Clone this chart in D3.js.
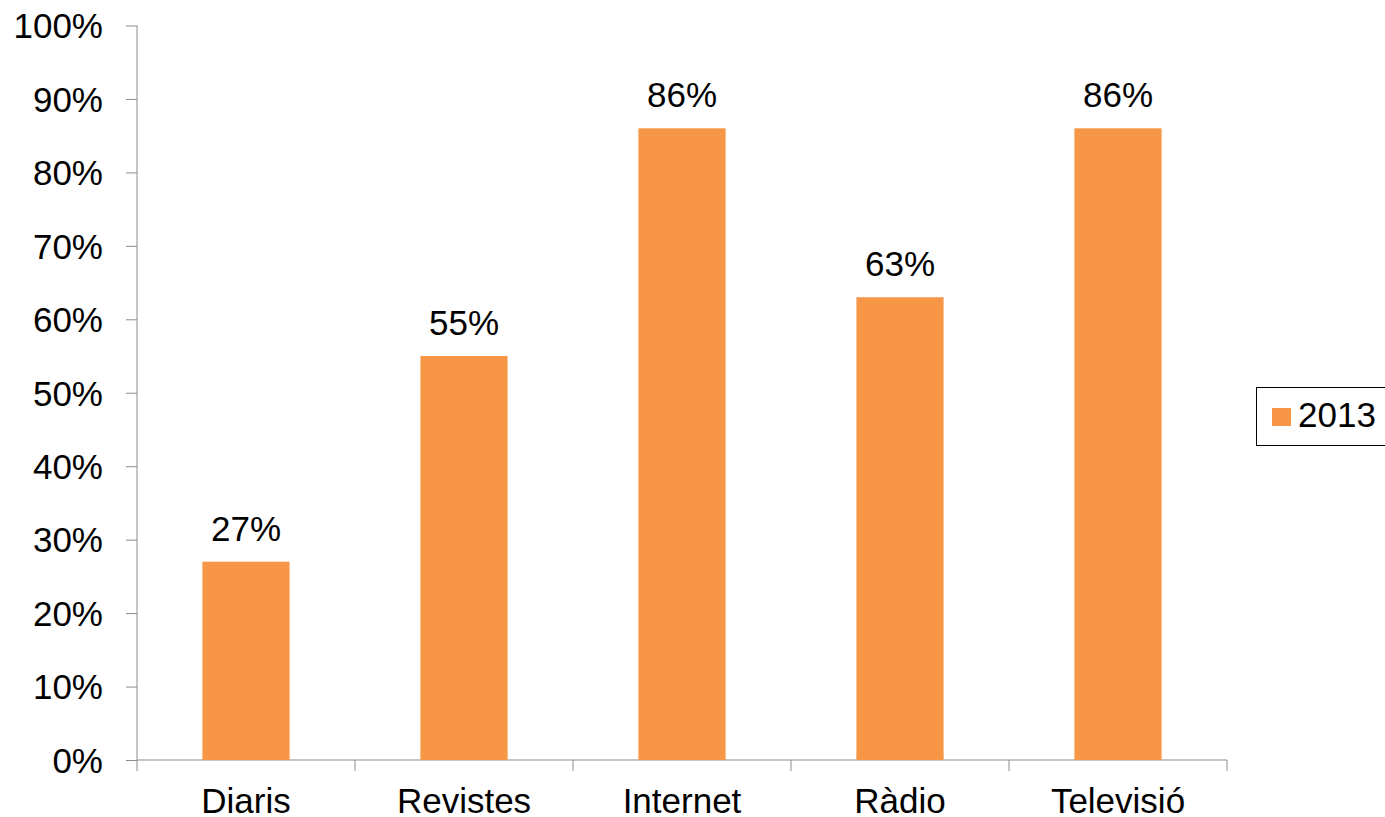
<!DOCTYPE html>
<html><head><meta charset="utf-8">
<script src="https://cdn.jsdelivr.net/npm/d3@7"></script>
<style>html,body{margin:0;padding:0;background:#fff;overflow:hidden}svg text{font-family:"Liberation Sans",Arial,sans-serif;fill:#000}</style>
</head><body>
<svg id="c" width="1385" height="817"></svg>
<script>
const categories = ["Diaris","Revistes","Internet","Ràdio","Televisió"];
const values2013 = [0.27,0.55,0.86,0.63,0.86];
const yTicks = [0,0.1,0.2,0.3,0.4,0.5,0.6,0.7,0.8,0.9,1.0];
const seriesName = "2013";

const svg = d3.select("#c");
const fs = 35;
const x = d3.scaleBand().domain(categories).range([137,1227]).paddingInner(0.6).paddingOuter(0.3);
const y = d3.scaleLinear().domain([0,1]).range([760,25.5]);
const axisColor = "#8c8c8c";

// y axis
const ya = svg.append("g").attr("transform","translate(137,0)")
  .call(d3.axisLeft(y).tickValues(yTicks).tickFormat(d3.format(".0%")).tickSize(11).tickPadding(23));
ya.select(".domain").attr("stroke",axisColor).attr("d","M0,"+y(1)+"V"+y(0));
ya.selectAll(".tick line").attr("stroke",axisColor);
ya.selectAll(".tick text").attr("font-size",fs).attr("font-family","Liberation Sans, Arial, sans-serif").attr("dy","0.35em");

// x axis
const step = x.step();
const boundaries = categories.map((c,i)=>x(c)-x.bandwidth()*0 - (x.step()*x.paddingInner()/2)).concat([1227]);
const xg = svg.append("g");
xg.append("line").attr("x1",137).attr("x2",1227).attr("y1",y(0)).attr("y2",y(0)).attr("stroke",axisColor);
const bx = [137].concat(categories.slice(1).map(c=>x(c)-(x.step()-x.bandwidth())/2)).concat([1227]);
xg.selectAll("line.t").data(bx).enter().append("line").attr("class","t")
  .attr("x1",d=>d).attr("x2",d=>d).attr("y1",y(0)).attr("y2",y(0)+11).attr("stroke",axisColor);
xg.selectAll("text").data(categories).enter().append("text")
  .attr("x",d=>x(d)+x.bandwidth()/2).attr("y",813).attr("text-anchor","middle").attr("font-size",fs).text(d=>d);

// bars
svg.selectAll("rect.bar").data(values2013).enter().append("rect").attr("class","bar")
  .attr("x",(d,i)=>x(categories[i])).attr("width",x.bandwidth())
  .attr("y",d=>y(d)).attr("height",d=>y(0)-y(d)).attr("fill","#F79646");

// labels
svg.selectAll("text.lbl").data(values2013).enter().append("text").attr("class","lbl")
  .attr("x",(d,i)=>x(categories[i])+x.bandwidth()/2).attr("y",d=>y(d)-21)
  .attr("text-anchor","middle").attr("font-size",fs).text(d=>d3.format(".0%")(d));

// legend
const lg = svg.append("g");
lg.append("rect").attr("x",1256.5).attr("y",387.5).attr("width",160).attr("height",58).attr("fill","none").attr("stroke","#000").attr("stroke-width",1);
lg.append("rect").attr("x",1272).attr("y",408).attr("width",19).attr("height",18).attr("fill","#F79646");
lg.append("text").attr("x",1298).attr("y",427).attr("font-size",fs).text(seriesName);
</script>
</body></html>
